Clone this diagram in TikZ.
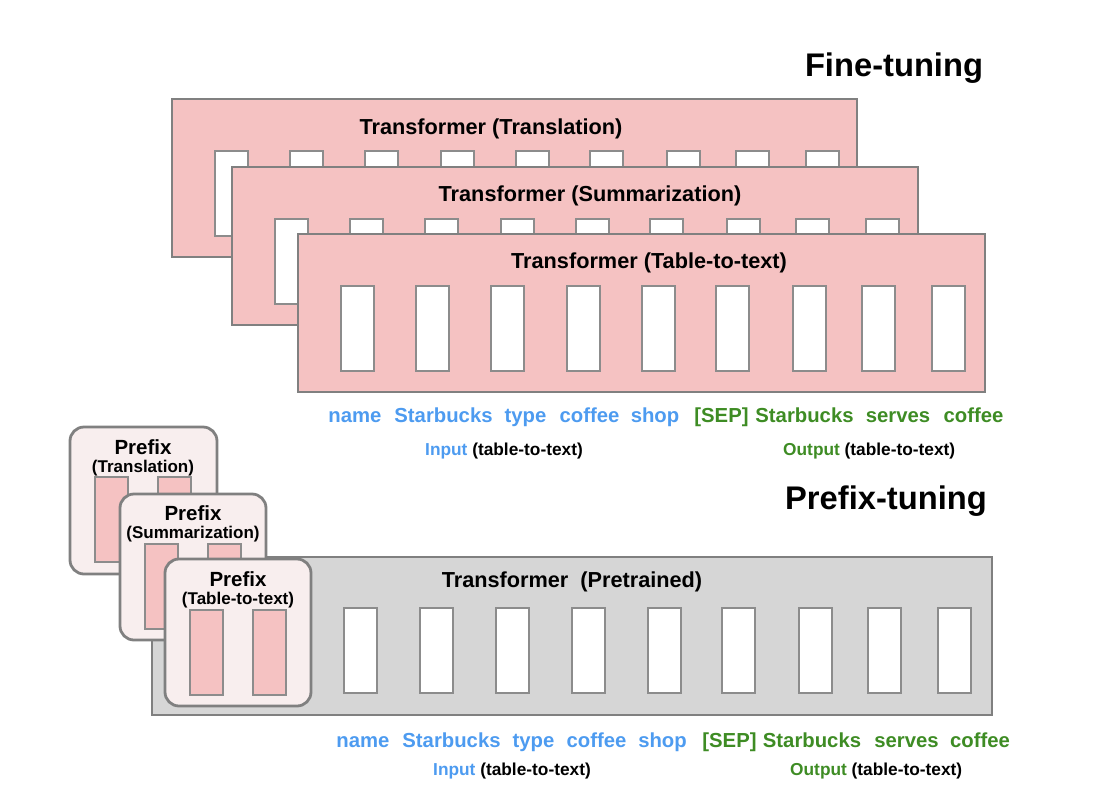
\documentclass[tikz,border=0pt]{standalone}
\usepackage{fontspec}
\setmainfont{Liberation Sans}
\definecolor{pinkfill}{RGB}{245,194,194}
\definecolor{bordergray}{RGB}{128,128,128}
\definecolor{cellgray}{RGB}{140,140,140}
\definecolor{grayfill}{RGB}{214,214,214}
\definecolor{prefixfill}{RGB}{248,238,238}
\definecolor{wordblue}{RGB}{77,155,240}
\definecolor{wordgreen}{RGB}{62,140,36}
\begin{document}
\begin{tikzpicture}[x=1pt,y=-1pt,
  panel/.style={draw=bordergray,line width=2.4pt,fill=pinkfill},
  graypanel/.style={draw=bordergray,line width=2.4pt,fill=grayfill},
  cell/.style={draw=cellgray,line width=1.6pt,fill=white},
  pcell/.style={draw=cellgray,line width=1.6pt,fill=pinkfill},
  prefixbox/.style={draw=bordergray,line width=2.8pt,fill=prefixfill,rounded corners=14pt},
  title/.style={font=\fontsize{21.7}{24}\selectfont\bfseries,inner sep=0pt},
  big/.style={font=\fontsize{32.7}{36}\selectfont\bfseries,inner sep=0pt},
  ptitle/.style={font=\fontsize{20.5}{23}\selectfont\bfseries,inner sep=0pt,anchor=base},
  psub/.style={font=\fontsize{17}{19}\selectfont\bfseries,inner sep=0pt,anchor=base},
  inw/.style={font=\fontsize{20.3}{22}\selectfont\bfseries,text=wordblue,inner sep=0pt,anchor=base},
  outw/.style={font=\fontsize{20.3}{22}\selectfont\bfseries,text=wordgreen,inner sep=0pt,anchor=base},
  lab/.style={font=\fontsize{17.3}{19}\selectfont\bfseries,inner sep=0pt,anchor=base west}]
\useasboundingbox (0,0) rectangle (1108,790);

% ---------- Fine-tuning ----------
\node[big] (ft) at (894,68) {Fine-tuning};

% Panel A: Translation
\draw[panel] (172,99) rectangle ++(685,158);
\node[title] (tA) at (491,129) {Transformer (Translation)};
\foreach \dx in {43,118,193,269,344,418,495,564,634}
  \draw[cell] (172+\dx,151) rectangle ++(33,85);

% Panel B: Summarization
\draw[panel] (232,167) rectangle ++(686,158);
\node[title] (tB) at (590,196) {Transformer (Summarization)};
\foreach \dx in {43,118,193,269,344,418,495,564,634}
  \draw[cell] (232+\dx,219) rectangle ++(33,85);

% Panel C: Table-to-text
\draw[panel] (298,234) rectangle ++(687,158);
\node[title] (tC) at (649,263) {Transformer (Table-to-text)};
\foreach \dx in {43,118,193,269,344,418,495,564,634}
  \draw[cell] (298+\dx,286) rectangle ++(33,85);

% words (top)
\node[inw] (w1) at (355,422) {name};
\node[inw] (w2) at (443.5,422) {Starbucks};
\node[inw] (w3) at (525.5,422) {type};
\node[inw] (w4) at (589.5,422) {coffee};
\node[inw] (w5) at (655,422) {shop};
\node[outw] (w6) at (721.5,422) {[SEP]};
\node[outw] (w7) at (804.5,422) {Starbucks};
\node[outw] (w8) at (898,422) {serves};
\node[outw] (w9) at (973.5,422) {coffee};
\node[lab] (in1) at (425,455) {\textcolor{wordblue}{Input} (table-to-text)};
\node[lab] (out1) at (783,455) {\textcolor{wordgreen}{Output} (table-to-text)};

% ---------- Prefix-tuning ----------
\node[big] (pt) at (886,501) {Prefix-tuning};

% Pretrained transformer
\draw[graypanel] (152,557) rectangle (992,715);
\node[title] (tP) at (572,582) {Transformer\ \ (Pretrained)};
\foreach \x in {344,420,496,572,648,722,799,868,938}
  \draw[cell] (\x,608) rectangle ++(33,85);

% Prefix 1: Translation
\draw[prefixbox] (70,427) rectangle ++(147,147);
\node[ptitle] (p1) at (143,454) {Prefix};
\node[psub] (p1s) at (143,472) {(Translation)};
\draw[pcell] (95,477) rectangle ++(33,85);
\draw[pcell] (158,477) rectangle ++(33,85);

% Prefix 2: Summarization
\draw[prefixbox] (120,494) rectangle ++(146,146);
\node[ptitle] (p2) at (193,520) {Prefix};
\node[psub] (p2s) at (193,538) {(Summarization)};
\draw[pcell] (145,544) rectangle ++(33,85);
\draw[pcell] (208,544) rectangle ++(33,85);

% Prefix 3: Table-to-text
\draw[prefixbox] (165,559) rectangle ++(146,147);
\node[ptitle] (p3) at (238,586) {Prefix};
\node[psub] (p3s) at (238,604) {(Table-to-text)};
\draw[pcell] (190,610) rectangle ++(33,85);
\draw[pcell] (253,610) rectangle ++(33,85);

% words (bottom)
\node[inw] (v1) at (363,747) {name};
\node[inw] (v2) at (451.5,747) {Starbucks};
\node[inw] (v3) at (533.5,747) {type};
\node[inw] (v4) at (596.5,747) {coffee};
\node[inw] (v5) at (662.5,747) {shop};
\node[outw] (v6) at (729.5,747) {[SEP]};
\node[outw] (v7) at (812,747) {Starbucks};
\node[outw] (v8) at (906.5,747) {serves};
\node[outw] (v9) at (980,747) {coffee};
\node[lab] (in2) at (433,775) {\textcolor{wordblue}{Input} (table-to-text)};
\node[lab] (out2) at (790,775) {\textcolor{wordgreen}{Output} (table-to-text)};
\end{tikzpicture}
\end{document}
